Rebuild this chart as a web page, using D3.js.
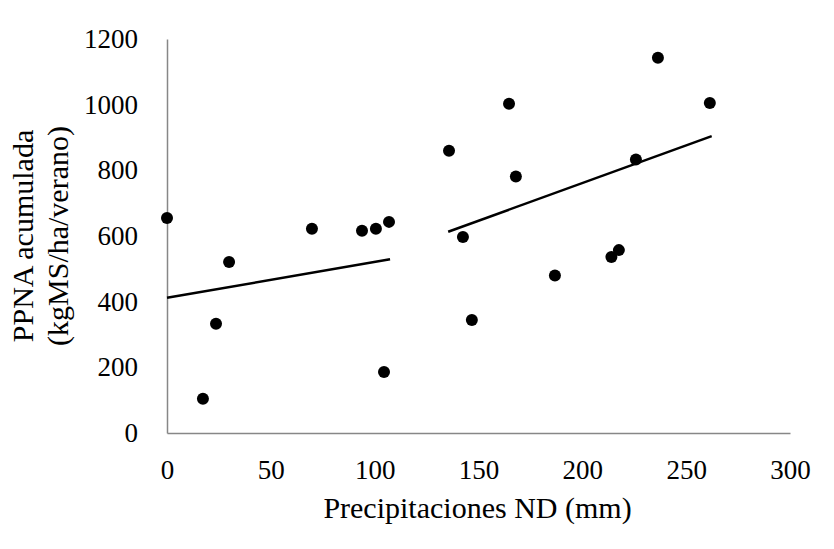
<!DOCTYPE html>
<html>
<head>
<meta charset="utf-8">
<script src="https://cdn.jsdelivr.net/npm/d3@7"></script>
<style>
  body { margin: 0; background: #fff; }
  text { font-family: "Liberation Serif", "Times New Roman", serif; fill: #000; }
</style>
</head>
<body>
<div id="chart"></div>
<script>
// precipitation (mm) and accumulated ANPP (kgMS/ha/summer)
var precip = [0, 17.3, 23.6, 29.9, 69.8, 93.9, 100.6, 106.9, 104.5,
   135.8, 142.5, 146.8, 164.7, 168, 186.8, 214, 217.6, 225.8, 236.4, 261.4];
var ppna = [655, 104, 333, 521, 622, 616, 622, 643, 186,
   860, 597, 344, 1003, 781, 480, 536, 557, 833, 1143, 1005];

// two trend segments (start / end)
var trendX = [[0, 107.4], [135.4, 262.3]];
var trendY = [[412, 529], [613, 904]];

var xTicks = [0, 50, 100, 150, 200, 250, 300];
var yTicks = [0, 200, 400, 600, 800, 1000, 1200];

var width = 834, height = 549,
   margin = {left: 167, right: 44, top: 39, bottom: 116};

var svg = d3.select("#chart").append("svg")
   .attr("width", width)
   .attr("height", height);

var x = d3.scaleLinear().domain([0, 300]).range([margin.left, width - margin.right]);
var y = d3.scaleLinear().domain([0, 1200]).range([height - margin.bottom, margin.top]);

// x axis
var xAxis = svg.append("g")
   .attr("transform", "translate(0," + y(0) + ")")
   .call(d3.axisBottom(x).tickValues(xTicks).tickFormat(d3.format("d"))
      .tickSize(0).tickPadding(27));
xAxis.attr("font-family", null).attr("font-size", null);
xAxis.select(".domain").attr("stroke", "#878787").attr("stroke-width", 1.5);
xAxis.selectAll("text").style("font-size", "27px");

// y axis
var yAxis = svg.append("g")
   .attr("transform", "translate(" + x(0) + ",0)")
   .call(d3.axisLeft(y).tickValues(yTicks).tickFormat(d3.format("d"))
      .tickSize(0).tickPadding(29));
yAxis.attr("font-family", null).attr("font-size", null);
yAxis.select(".domain").attr("stroke", "#878787").attr("stroke-width", 1.5);
yAxis.selectAll("text").style("font-size", "27px");

// trend lines
var segs = trendX.map(function (d, i) {
   return [[d[0], trendY[i][0]], [d[1], trendY[i][1]]];
});
svg.selectAll(".trend").data(segs).enter().append("line")
   .attr("class", "trend")
   .attr("x1", function (d) { return x(d[0][0]); })
   .attr("y1", function (d) { return y(d[0][1]); })
   .attr("x2", function (d) { return x(d[1][0]); })
   .attr("y2", function (d) { return y(d[1][1]); })
   .attr("stroke", "#000")
   .attr("stroke-width", 2.5);

// points
svg.selectAll(".pt").data(precip).enter().append("circle")
   .attr("class", "pt")
   .attr("cx", function (d) { return x(d); })
   .attr("cy", function (d, i) { return y(ppna[i]); })
   .attr("r", 6)
   .attr("fill", "#000");

// axis titles
svg.append("text")
   .attr("x", 477.5)
   .attr("y", 518)
   .attr("text-anchor", "middle")
   .style("font-size", "30px")
   .text("Precipitaciones ND (mm)");

var yt = svg.append("text")
   .attr("transform", "translate(33,236) rotate(-90)")
   .attr("text-anchor", "middle")
   .style("font-size", "30px");
yt.append("tspan").attr("x", 0).attr("dy", 0).text("PPNA acumulada");
yt.append("tspan").attr("x", 0).attr("dy", 35).text("(kgMS/ha/verano)");
</script>
</body>
</html>
